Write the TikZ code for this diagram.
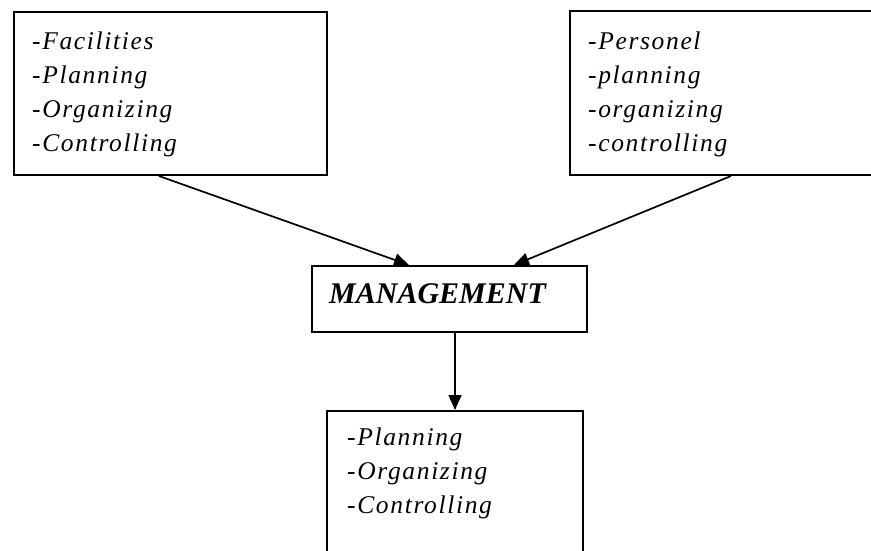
\documentclass[tikz,border=0pt]{standalone}
\usepackage{fontspec}
\setmainfont{Liberation Serif}
\newfontfamily\itemfont[LetterSpace=6.5]{Liberation Serif}
\usetikzlibrary{arrows.meta}
\begin{document}
\begin{tikzpicture}[x=1pt,y=-1pt,
  box/.style={draw, line width=2pt, rectangle, inner sep=0pt, anchor=north west},
  item/.style={anchor=base west, inner sep=0pt, font=\itemfont\itshape\fontsize{25.5}{30}\selectfont},
  title/.style={anchor=base west, inner sep=0pt, font=\bfseries\itshape\fontsize{30}{36}\selectfont},
  link/.style={line width=1.7pt, -{Triangle[length=15pt,width=13pt]}},
]
\useasboundingbox (0,0) rectangle (871,550);
\clip (0,0) rectangle (871,550);

% boxes
\node[box, minimum width=313pt, minimum height=163pt] (fac) at (13,11) {};
\node[box, minimum width=331pt, minimum height=164pt] (pers) at (569,10) {};
\node[box, minimum width=275pt, minimum height=66pt] (mgmt) at (311,265) {};
\node[box, minimum width=256pt, minimum height=160pt] (res) at (326,410) {};

% box contents
\foreach \t [count=\i] in {-Facilities,-Planning,-Organizing,-Controlling}
  \node[item] (f\i) at (32,{49+34*(\i-1)}) {\t};
\foreach \t [count=\i] in {-Personel,-planning,-organizing,-controlling}
  \node[item] (p\i) at (588,{49+34*(\i-1)}) {\t};
\node[title] (mt) at (329,303) {MANAGEMENT};
\foreach \t [count=\i] in {-Planning,-Organizing,-Controlling}
  \node[item] (r\i) at (347,{445+34*(\i-1)}) {\t};

% connectors
\draw[link] ([xshift=-11.5pt]fac.south) -- ([xshift=-40.5pt]mgmt.north);
\draw[link] ([xshift=-4.5pt]pers.south) -- ([xshift=64.5pt]mgmt.north);
\draw[link] ([xshift=5.5pt]mgmt.south) -- (res.north);
\end{tikzpicture}
\end{document}
